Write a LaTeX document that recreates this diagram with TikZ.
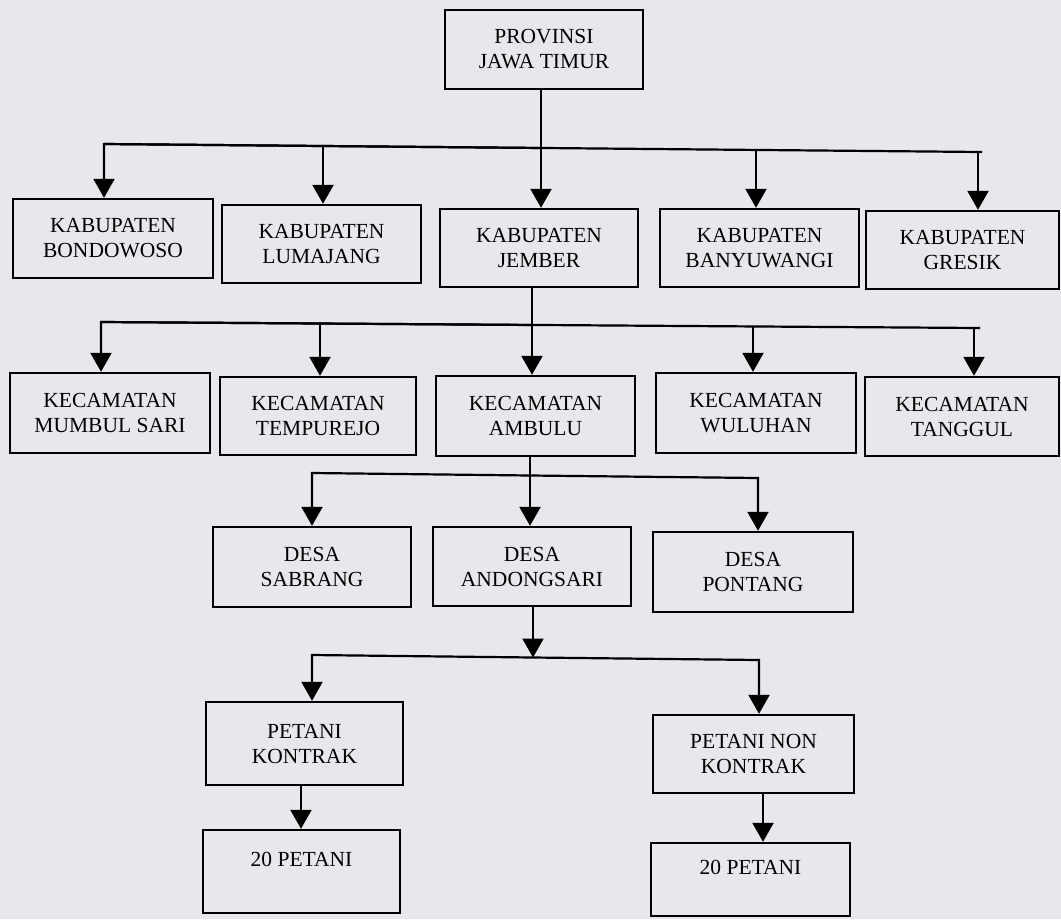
\documentclass[tikz,border=0pt]{standalone}
\usepackage{fontspec}
\setmainfont{Liberation Serif}
\usetikzlibrary{arrows.meta}
\definecolor{paper}{RGB}{232,232,236}
\newcommand\mybox[6]{\node[box, minimum width=#4pt, minimum height=#5pt] (#1) at (#2,#3) {#6};}
\begin{document}
\begin{tikzpicture}[x=1pt,y=-1pt,
  box/.style={draw=black, line width=2.4pt, align=center, inner sep=0pt,
    font=\fontsize{21.5}{25}\selectfont},
  link/.style={line width=2.2pt},
  arr/.style={line width=2.2pt, line join=miter, -{Triangle[length=19pt,width=21pt]}}]
\fill[paper] (0,0) rectangle (1061,919);
\useasboundingbox (0,0) rectangle (1061,919);
% level 0
\mybox{prov}{544}{49.5}{198}{79}{PROVINSI\\JAWA TIMUR}
% level 1
\mybox{bond}{113}{238.5}{200}{79}{KABUPATEN\\BONDOWOSO}
\mybox{luma}{321.5}{244}{199}{78}{KABUPATEN\\LUMAJANG}
\mybox{jemb}{539}{248}{198}{78}{KABUPATEN\\JEMBER}
\mybox{bany}{759.5}{248}{199}{78}{KABUPATEN\\BANYUWANGI}
\mybox{gres}{962.5}{250}{193}{78}{KABUPATEN\\GRESIK}
% level 2
\mybox{mumb}{110}{413}{200}{80}{KECAMATAN\\MUMBUL SARI}
\mybox{temp}{318}{416}{196}{78}{KECAMATAN\\TEMPUREJO}
\mybox{ambu}{535.5}{416}{199}{80}{KECAMATAN\\AMBULU}
\mybox{wulu}{756}{413}{200}{80}{KECAMATAN\\WULUHAN}
\mybox{tang}{962}{416.5}{194}{79}{KECAMATAN\\TANGGUL}
% level 3
\mybox{sabr}{312}{567}{198}{80}{DESA\\SABRANG}
\mybox{ando}{532}{566.5}{198}{79}{DESA\\ANDONGSARI}
\mybox{pont}{753}{572}{200}{80}{DESA\\PONTANG}
% level 4
\mybox{pk}{304.5}{743.5}{197}{83}{PETANI\\KONTRAK}
\mybox{pnk}{753.5}{754}{201}{78}{PETANI NON\\KONTRAK}
% level 5
\mybox{pa}{301.5}{871.5}{197}{83}{20 PETANI\\~}
\mybox{pb}{750.5}{879.5}{199}{73}{20 PETANI\\~}
% bus 1
\coordinate (b1L) at (104,144);
\coordinate (b1b) at (323,146);
\coordinate (b1c) at (541,148);
\coordinate (b1d) at (756,150);
\coordinate (b1e) at (978,152);
\coordinate (b1R) at (982,152);
\draw[link] (b1L) -- (b1R);
\draw[arr] (prov.south -| b1c) -- (jemb.north -| b1c);
\draw[arr] (b1c) -- (b1L) -- (bond.north -| b1L);
\draw[arr] (b1b) -- (luma.north -| b1b);
\draw[arr] (b1d) -- (bany.north -| b1d);
\draw[arr] (b1e) -- (gres.north -| b1e);
% bus 2
\coordinate (b2L) at (101,322);
\coordinate (b2b) at (320,323.5);
\coordinate (b2c) at (532,325);
\coordinate (b2d) at (753,326.5);
\coordinate (b2e) at (974,328);
\coordinate (b2R) at (980,328);
\draw[link] (b2L) -- (b2R);
\draw[arr] (jemb.south -| b2c) -- (ambu.north -| b2c);
\draw[arr] (b2c) -- (b2L) -- (mumb.north -| b2L);
\draw[arr] (b2b) -- (temp.north -| b2b);
\draw[arr] (b2d) -- (wulu.north -| b2d);
\draw[arr] (b2e) -- (tang.north -| b2e);
% bus 3
\coordinate (b3L) at (312,473);
\coordinate (b3c) at (530,475.5);
\coordinate (b3R) at (758,478);
\draw[link] (ambu.south -| b3c) -- (b3c);
\draw[arr] (b3c) -- (ando.north -| b3c);
\draw[arr] (b3c) -- (b3L) -- (sabr.north -| b3L);
\draw[arr] (b3c) -- (b3R) -- (pont.north -| b3R);
% bus 4
\coordinate (b4L) at (312,655);
\coordinate (b4c) at (533,657.5);
\coordinate (b4R) at (759,660);
\draw[arr] (ando.south -| b4c) -- (b4c);
\draw[arr] (b4c) -- (b4L) -- (pk.north -| b4L);
\draw[arr] (b4c) -- (b4R) -- (pnk.north -| b4R);
% lower arrows
\coordinate (k1) at (301,800);
\coordinate (k2) at (763,800);
\draw[arr] (pk.south -| k1) -- (pa.north -| k1);
\draw[arr] (pnk.south -| k2) -- (pb.north -| k2);
\end{tikzpicture}
\end{document}
